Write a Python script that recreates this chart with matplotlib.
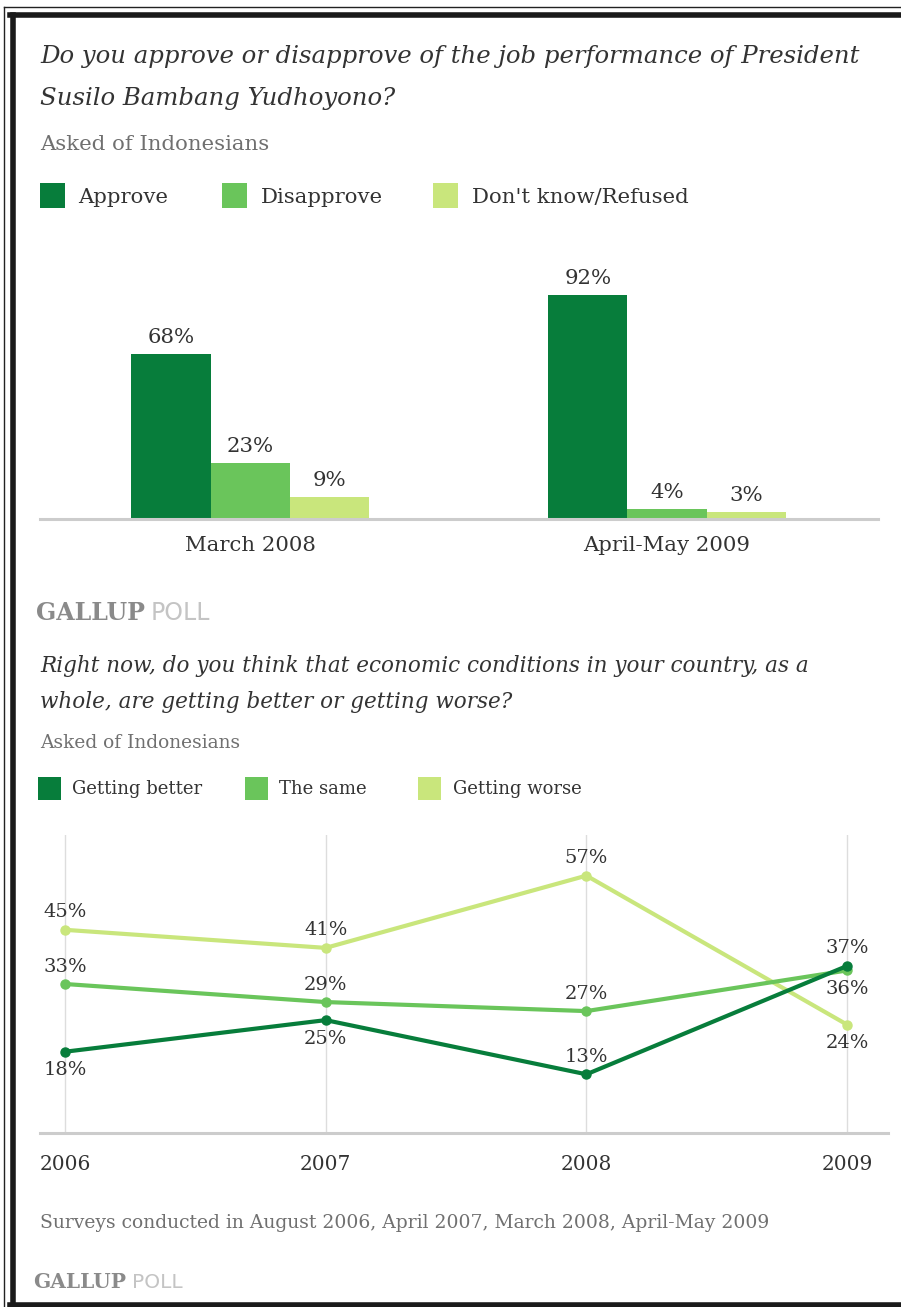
import matplotlib
matplotlib.use("Agg")
import matplotlib.pyplot as plt
from matplotlib.patches import Rectangle
from matplotlib.lines import Line2D

# --- data ---
groups = ["March 2008", "April-May 2009"]
approve = [68, 92]
disapprove = [23, 4]
dont_know = [9, 3]

years = [2006, 2007, 2008, 2009]
better = [18, 25, 13, 37]
same = [33, 29, 27, 36]
worse = [45, 41, 57, 24]

DARK = "#077d3b"
MID = "#6ac55b"
LIGHT = "#c9e67c"
TXT = "#333333"
GREY = "#707070"
SERIF = "DejaVu Serif"

W, H = 901, 1307
fig = plt.figure(figsize=(W / 100, H / 100), dpi=100)


def fx(x):
    return x / W


def fy(y):
    return 1 - y / H


def rect(l, t, r, b):
    return [fx(l), fy(b), (r - l) / W, (b - t) / H]


def ftext(x, y, s, **kw):
    kw.setdefault("family", SERIF)
    kw.setdefault("color", TXT)
    kw.setdefault("va", "baseline")
    fig.text(fx(x), fy(y), s, **kw)


def legend_box(x, y, size, color):
    fig.add_artist(Rectangle((fx(x), fy(y + size)), size / W, size / H,
                             transform=fig.transFigure, color=color, lw=0))


def gallup(x, y, size):
    t = fig.text(fx(x), fy(y), "GALLUP", family=SERIF, weight="bold",
                 color="#8a8a8a", fontsize=size, va="baseline")
    fig.canvas.draw()
    bb = t.get_window_extent()
    fig.text(bb.x1 / W + 6 / W, fy(y), "POLL", family="DejaVu Sans",
             color="#c4c4c4", fontsize=size, va="baseline")


# frame
fig.add_artist(Line2D([fx(4), fx(4)], [fy(7), fy(1307)], transform=fig.transFigure,
                      color="#222222", lw=1))
fig.add_artist(Line2D([fx(4), fx(901)], [fy(7), fy(7)], transform=fig.transFigure,
                      color="#222222", lw=1))
fig.add_artist(Line2D([fx(12.5), fx(12.5)], [fy(14.5), fy(1304.5)], transform=fig.transFigure,
                      color="#1a1a1a", lw=4))
fig.add_artist(Line2D([fx(10), fx(901)], [fy(14.5), fy(14.5)], transform=fig.transFigure,
                      color="#1a1a1a", lw=4))
fig.add_artist(Line2D([fx(10), fx(901)], [fy(1304.5), fy(1304.5)], transform=fig.transFigure,
                      color="#1a1a1a", lw=4))

# ---------- top: approval bars ----------
ftext(40, 63, "Do you approve or disapprove of the job performance of President",
      style="italic", fontsize=17.6)
ftext(40, 105, "Susilo Bambang Yudhoyono?", style="italic", fontsize=17.6)
ftext(40, 150, "Asked of Indonesians", fontsize=15.3, color=GREY)

legend_box(40, 183, 25, DARK)
ftext(78, 203, "Approve", fontsize=15.3)
legend_box(222, 183, 25, MID)
ftext(261, 203, "Disapprove", fontsize=15.3)
legend_box(433, 183, 25, LIGHT)
ftext(472, 203, "Don't know/Refused", fontsize=15.3)

ax1 = fig.add_axes(rect(40, 250, 878, 519))
x = list(range(len(groups)))
bw = 0.19
for off, vals, col in [(-bw, approve, DARK), (0, disapprove, MID), (bw, dont_know, LIGHT)]:
    bars = ax1.bar([i + off for i in x], vals, width=bw, color=col, lw=0)
    for b, v in zip(bars, vals):
        ax1.annotate(f"{v}%", (b.get_x() + b.get_width() / 2, v), xytext=(0, 8),
                     textcoords="offset points", ha="center", va="baseline",
                     family=SERIF, fontsize=15.3, color=TXT)
ax1.set_xlim(-0.504, 1.506)
ax1.set_ylim(0, 110.7)
ax1.set_xticks(x)
ax1.set_xticklabels(groups, family=SERIF, fontsize=15.3, color=TXT)
ax1.tick_params(axis="x", length=0, pad=12)
ax1.set_yticks([])
for s in ["top", "left", "right"]:
    ax1.spines[s].set_visible(False)
ax1.spines["bottom"].set_color("#cccccc")
ax1.spines["bottom"].set_linewidth(2.2)

gallup(36, 620, 17)

# ---------- bottom: economic conditions lines ----------
ftext(40, 672, "Right now, do you think that economic conditions in your country, as a",
      style="italic", fontsize=15.5)
ftext(40, 708, "whole, are getting better or getting worse?", style="italic", fontsize=15.5)
ftext(40, 748, "Asked of Indonesians", fontsize=13.4, color=GREY)

legend_box(38, 777, 23, DARK)
ftext(72, 794, "Getting better", fontsize=13)
legend_box(245, 777, 23, MID)
ftext(279, 794, "The same", fontsize=13)
legend_box(418, 777, 23, LIGHT)
ftext(453, 794, "Getting worse", fontsize=13)

ax2 = fig.add_axes(rect(40, 835, 888, 1133))
ax2.set_xlim(2005.904, 2009.157)
ax2.set_ylim(0, 66)
for yr in years:
    ax2.axvline(yr, color="#dddddd", lw=1, zorder=0)

# label placement: +1 above the point, -1 below
place_better = [-1, -1, 1, 1]
place_same = [1, 1, 1, -1]
place_worse = [1, 1, 1, -1]
for vals, col, place in [(worse, LIGHT, place_worse), (same, MID, place_same),
                         (better, DARK, place_better)]:
    ax2.plot(years, vals, color=col, lw=3, marker="o", ms=6.5, zorder=3)
    for yr, v, p in zip(years, vals, place):
        ax2.annotate(f"{v}%", (yr, v), xytext=(0, 9 if p > 0 else -7),
                     textcoords="offset points", ha="center",
                     va="baseline" if p > 0 else "top",
                     family=SERIF, fontsize=14, color=TXT)

ax2.set_xticks(years)
ax2.set_xticklabels([str(y) for y in years], family=SERIF, fontsize=14.5, color=TXT)
ax2.tick_params(axis="x", length=0, pad=16)
ax2.set_yticks([])
for s in ["top", "left", "right"]:
    ax2.spines[s].set_visible(False)
ax2.spines["bottom"].set_color("#cccccc")
ax2.spines["bottom"].set_linewidth(2.2)

ftext(40, 1228, "Surveys conducted in August 2006, April 2007, March 2008, April-May 2009",
      fontsize=13.5, color=GREY)
gallup(33, 1288, 14.5)

fig.savefig("out.png", dpi=100)
